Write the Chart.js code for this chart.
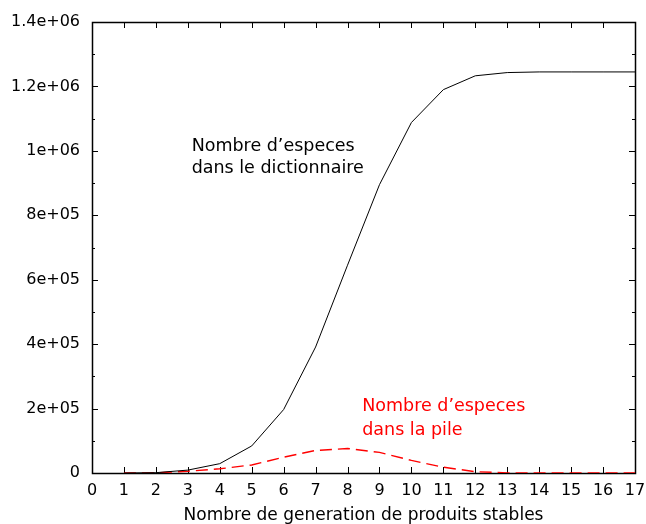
<!DOCTYPE html>
<html>
<head>
<meta charset="utf-8">
<script src="https://cdn.jsdelivr.net/npm/chart.js@4.4.1/dist/chart.umd.min.js"></script>
<style>
  html, body { margin: 0; padding: 0; background: #fff; }
  canvas { display: block; }
</style>
</head>
<body>
<canvas id="generationsChart" width="646" height="524"></canvas>
<script>
// Nombre de generation (axe x)
const generations = [1, 2, 3, 4, 5, 6, 7, 8, 9, 10, 11, 12, 13, 14, 15, 16, 17];
// Nombre d'especes dans le dictionnaire
const especesDictionnaire = [0, 1000, 9000, 29000, 84000, 197000, 391000, 645000, 895000,
  1088000, 1190000, 1233000, 1243000, 1245000, 1245000, 1245000, 1245000];
// Nombre d'especes dans la pile
const especesPile = [0, 500, 5600, 13000, 25000, 49000, 70000, 76000, 64000,
  39000, 18000, 4000, 500, 0, 0, 0, 0];

const yTickLabels = ['0', '2e+05', '4e+05', '6e+05', '8e+05', '1e+06', '1.2e+06', '1.4e+06'];
const xTickLabels = ['0', '1', '2', '3', '4', '5', '6', '7', '8', '9', '10', '11', '12', '13', '14', '15', '16', '17'];

const annotationTexts = [
  { lines: ['Nombre d\u2019especes', 'dans le dictionnaire'], x: 3.12, y: [1.0e6, 9.31e5], color: '#000000' },
  { lines: ['Nombre d\u2019especes', 'dans la pile'], x: 8.46, y: [1.92e5, 1.17e5], color: '#ff0000' }
];

const FONT = '"DejaVu Sans", sans-serif';

// cadre + graduations vers l'interieur (style gnuplot)
const cadrePlugin = {
  id: 'cadre',
  beforeDatasetsDraw(chart) {
    const { ctx, chartArea: a, scales: { x, y } } = chart;
    ctx.save();
    ctx.strokeStyle = '#000';
    ctx.lineWidth = 1;
    ctx.beginPath();
    for (let v = 0; v <= 17; v++) {
      const px = Math.round(x.getPixelForValue(v)) + 0.5;
      ctx.moveTo(px, a.bottom); ctx.lineTo(px, a.bottom - 6);
      ctx.moveTo(px, a.top); ctx.lineTo(px, a.top + 6);
    }
    for (let v = 0; v <= 1400000; v += 100000) {
      const py = Math.round(y.getPixelForValue(v)) + 0.5;
      const len = (v % 200000 === 0) ? 6 : 3;
      ctx.moveTo(a.left, py); ctx.lineTo(a.left + len, py);
      ctx.moveTo(a.right, py); ctx.lineTo(a.right - len, py);
    }
    ctx.stroke();
    ctx.lineWidth = 1.5;
    ctx.strokeRect(a.left + 0.5, a.top + 0.5, a.right - a.left, a.bottom - a.top);
    ctx.restore();
  },
  afterDatasetsDraw(chart) {
    const { ctx, scales: { x, y } } = chart;
    ctx.save();
    ctx.font = '17.5px ' + FONT;
    ctx.textAlign = 'left';
    ctx.textBaseline = 'alphabetic';
    annotationTexts.forEach(t => {
      ctx.fillStyle = t.color;
      t.lines.forEach((line, i) => {
        ctx.fillText(line, x.getPixelForValue(t.x), y.getPixelForValue(t.y[i]));
      });
    });
    ctx.restore();
  }
};

const ctx = document.getElementById('generationsChart').getContext('2d');
new Chart(ctx, {
  type: 'line',
  data: {
    datasets: [{
      label: 'Nombre d\u2019especes dans le dictionnaire',
      data: generations.map((g, i) => ({ x: g, y: especesDictionnaire[i] })),
      borderColor: '#000000',
      borderWidth: 1,
      pointRadius: 0,
      tension: 0,
      fill: false
    }, {
      label: 'Nombre d\u2019especes dans la pile',
      data: generations.map((g, i) => ({ x: g, y: especesPile[i] })),
      borderColor: '#ff0000',
      borderWidth: 1.4,
      borderDash: [12, 6],
      pointRadius: 0,
      tension: 0,
      fill: false
    }]
  },
  options: {
    responsive: false,
    animation: false,
    layout: { padding: { top: 22, right: 11, left: 0, bottom: 0 } },
    plugins: {
      legend: { display: false },
      tooltip: { enabled: false }
    },
    scales: {
      x: {
        type: 'linear',
        min: 0,
        max: 17,
        grid: { display: false, drawTicks: false },
        border: { display: false },
        afterFit: scale => {
          scale.height = 51;
          scale.paddingLeft = 0;
          scale.paddingRight = 0;
        },
        ticks: {
          stepSize: 1,
          padding: 8,
          color: '#000',
          font: { family: FONT, size: 16 },
          maxRotation: 0,
          autoSkip: false,
          callback: (v, i) => xTickLabels[i]
        },
        title: {
          display: true,
          text: 'Nombre de generation de produits stables',
          color: '#000',
          font: { family: FONT, size: 17, lineHeight: 1 },
          padding: { top: 0, bottom: 0 }
        }
      },
      y: {
        min: 0,
        max: 1400000,
        grid: { display: false, drawTicks: false },
        border: { display: false },
        afterFit: scale => { scale.width = 92; },
        ticks: {
          stepSize: 200000,
          padding: 12,
          color: '#000',
          font: { family: FONT, size: 16 },
          callback: (v, i) => yTickLabels[i]
        }
      }
    }
  },
  plugins: [cadrePlugin]
});
</script>
</body>
</html>
